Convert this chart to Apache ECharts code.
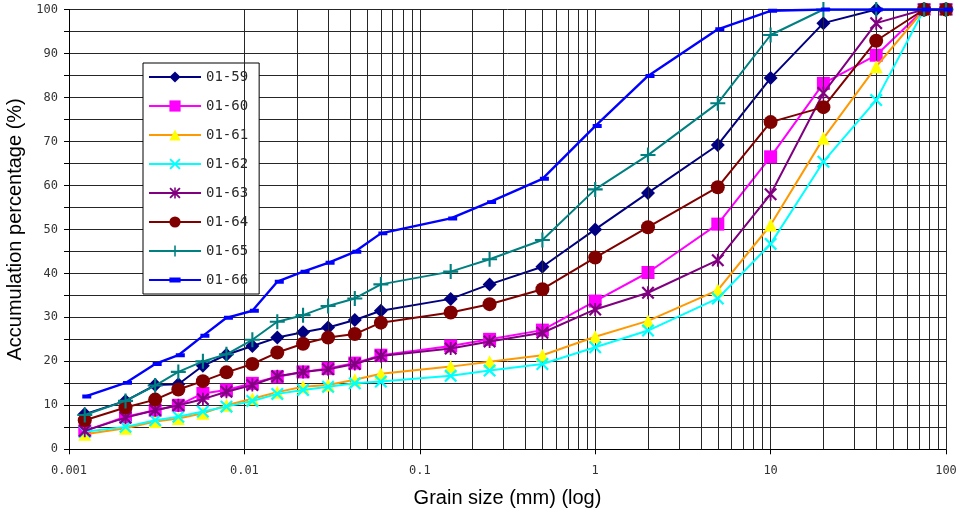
<!DOCTYPE html>
<html><head><meta charset="utf-8">
<script src="https://cdn.jsdelivr.net/npm/echarts@6/dist/echarts.min.js"></script>
<style>html,body{margin:0;padding:0;background:#fff}#c{width:964px;height:515px}</style>
</head><body><div id="c"></div>
<script>
// Grain sizes (mm), shared by all samples
const grainSize = [0.00123, 0.0021, 0.0031, 0.0042, 0.0058, 0.0079, 0.0111, 0.0154, 0.0216, 0.030, 0.0426, 0.06, 0.15, 0.25, 0.5, 1, 2, 5, 10, 20, 40, 75, 100];

const s0159 = [8.0, 11.0, 14.6, 14.8, 19.0, 21.5, 23.5, 25.4, 26.6, 27.7, 29.4, 31.5, 34.2, 37.5, 41.5, 50.0, 58.3, 69.2, 84.4, 96.9, 100, 100, 100];
const s0160 = [4.2, 7.4, 8.9, 10.0, 12.7, 13.5, 15.0, 16.5, 17.6, 18.4, 19.6, 21.4, 23.5, 25.0, 27.1, 33.7, 40.2, 51.2, 66.5, 83.2, 89.6, 100, 100];
const s0161 = [3.4, 4.8, 6.3, 7.0, 8.2, 10.0, 11.5, 13.0, 14.2, 14.6, 15.8, 17.2, 18.8, 19.9, 21.4, 25.6, 29.2, 36.2, 51.0, 70.7, 87.0, 100, 100];
const s0162 = [4.0, 5.1, 6.6, 7.4, 8.6, 9.7, 11.0, 12.6, 13.5, 14.2, 15.0, 15.4, 16.7, 17.9, 19.4, 23.2, 27.0, 34.3, 46.7, 65.4, 79.4, 100, 100];
const s0163 = [4.2, 7.2, 8.9, 10.0, 11.4, 13.1, 14.6, 16.6, 17.6, 18.2, 19.4, 21.2, 22.9, 24.5, 26.5, 31.8, 35.6, 43.0, 58.0, 81.0, 96.9, 100, 100];
const s0164 = [6.6, 9.5, 11.3, 13.6, 15.5, 17.5, 19.4, 22.0, 24.0, 25.4, 26.2, 28.8, 31.1, 33.0, 36.4, 43.6, 50.5, 59.6, 74.4, 77.8, 92.9, 100, 100];
const s0165 = [7.8, 11.0, 14.5, 17.6, 20.0, 21.6, 24.9, 29.0, 30.5, 32.6, 34.3, 37.5, 40.4, 43.2, 47.6, 59.1, 66.9, 78.7, 94.2, 100, 100, 100, 100];
const s0166 = [12.0, 15.1, 19.4, 21.4, 25.8, 29.9, 31.5, 38.1, 40.4, 42.4, 44.9, 49.1, 52.5, 56.2, 61.5, 73.5, 84.9, 95.5, 99.7, 100, 100, 100, 100];

const seriesNames = ['01-59', '01-60', '01-61', '01-62', '01-63', '01-64', '01-65', '01-66'];
const xTickLabels = ['0.001', '0.01', '0.1', '1', '10', '100'];
const yTickLabels = ['0', '10', '20', '30', '40', '50', '60', '70', '80', '90', '100'];

const X_PATH = 'path://M0,1.2 L1.2,0 L5,3.8 L8.8,0 L10,1.2 L6.2,5 L10,8.8 L8.8,10 L5,6.2 L1.2,10 L0,8.8 L3.8,5 Z';
const AST_PATH = 'path://M0,1.2 L1.2,0 L5,3.8 L8.8,0 L10,1.2 L6.2,5 L10,8.8 L8.8,10 L5,6.2 L1.2,10 L0,8.8 L3.8,5 Z M4.3,0 L5.7,0 L5.7,10 L4.3,10 Z';
const PLUS_PATH = 'path://M4.3,0 L5.7,0 L5.7,4.3 L10,4.3 L10,5.7 L5.7,5.7 L5.7,10 L4.3,10 L4.3,5.7 L0,5.7 L0,4.3 L4.3,4.3 Z';
const DASH_PATH = 'path://M0,2.8 L10,2.8 L10,7.2 L0,7.2 Z M0,0 L0.01,0 L0,0.01 Z M10,10 L9.99,10 L10,9.99 Z';

const values = [s0159, s0160, s0161, s0162, s0163, s0164, s0165, s0166];
const styles = [
  {line: '#000080', fill: '#000080', symbol: 'diamond', size: 14, w: 2},
  {line: '#FF00FF', fill: '#FF00FF', symbol: 'rect', size: 13, w: 2},
  {line: '#FF9900', fill: '#FFFF00', symbol: 'triangle', size: 13, w: 2},
  {line: '#00FFFF', fill: '#00FFFF', symbol: X_PATH, size: 13, w: 2},
  {line: '#800080', fill: '#800080', symbol: AST_PATH, size: 13, w: 2},
  {line: '#800000', fill: '#800000', symbol: 'circle', size: 14, w: 2},
  {line: '#008080', fill: '#008080', symbol: PLUS_PATH, size: 15, w: 2},
  {line: '#0000FF', fill: '#0000FF', symbol: DASH_PATH, size: 9, w: 2.4, offset: [2, 0]}
];

// minor log grid lines (2..9 in each decade)
const minorLines = [];
for (let d = -3; d < 2; d++) {
  for (let k = 2; k <= 9; k++) minorLines.push({xAxis: k * Math.pow(10, d)});
}

const gridColor = '#262626';
const series = [{
  name: 'grid', type: 'line', data: [], silent: true, z: 1,
  markLine: {
    silent: true, symbol: ['none', 'none'], label: {show: false}, animation: false,
    lineStyle: {color: gridColor, type: 'solid', width: 1},
    emphasis: {disabled: true},
    data: minorLines
  }
}];
seriesNames.forEach((n, i) => {
  const st = styles[i];
  series.push({
    name: n, type: 'line', z: 3 + i,
    data: grainSize.map((g, j) => [g, values[i][j]]),
    symbol: st.symbol, symbolSize: st.size, symbolOffset: st.offset || [0, 0],
    showAllSymbol: true,
    lineStyle: {color: st.line, width: st.w},
    itemStyle: {color: st.fill, borderWidth: 0},
    emphasis: {disabled: true}
  });
});

const chart = echarts.init(document.getElementById('c'), null, {renderer: 'canvas'});
chart.setOption({
  animation: false,
  backgroundColor: '#fff',
  grid: {left: 69, right: 18, top: 9.5, bottom: 65.7, containLabel: false, outerBoundsMode: 'none'},
  legend: {
    data: seriesNames, orient: 'vertical', left: 143, top: 63,
    padding: [7, 11, 7, 5], itemGap: 15, itemWidth: 52, itemHeight: 14,
    borderColor: '#000', borderWidth: 1, backgroundColor: '#fff',
    textStyle: {fontFamily: 'DejaVu Sans Mono', fontSize: 14, color: '#2a2a2a'},
    selectedMode: false
  },
  xAxis: {
    type: 'log', logBase: 10, min: 0.001, max: 100,
    name: 'Grain size (mm) (log)', nameLocation: 'middle', nameGap: 39,
    nameTextStyle: {fontFamily: 'Liberation Sans', fontSize: 20, color: '#000'},
    axisLine: {show: true, lineStyle: {color: '#000', width: 1}},
    axisTick: {show: true, length: 5, lineStyle: {color: '#000'}},
    axisLabel: {
      margin: 16, fontFamily: 'DejaVu Sans Mono', fontSize: 12, color: '#333',
      formatter: v => xTickLabels[Math.round(Math.log10(v)) + 3]
    },
    splitLine: {show: true, lineStyle: {color: gridColor, width: 1}}
  },
  yAxis: {
    type: 'value', min: 0, max: 100, interval: 5,
    name: 'Accumulation percentage (%)', nameLocation: 'middle', nameGap: 43,
    nameTextStyle: {fontFamily: 'Liberation Sans', fontSize: 20, color: '#000'},
    axisLine: {show: true, lineStyle: {color: '#000', width: 1}},
    axisTick: {show: true, length: 5, lineStyle: {color: '#000'}},
    axisLabel: {
      margin: 11, fontFamily: 'DejaVu Sans Mono', fontSize: 12, color: '#333',
      formatter: v => (v % 10 === 0 ? yTickLabels[v / 10] : '')
    },
    splitLine: {show: true, lineStyle: {color: gridColor, width: 1}}
  },
  series: series
});
</script></body></html>
